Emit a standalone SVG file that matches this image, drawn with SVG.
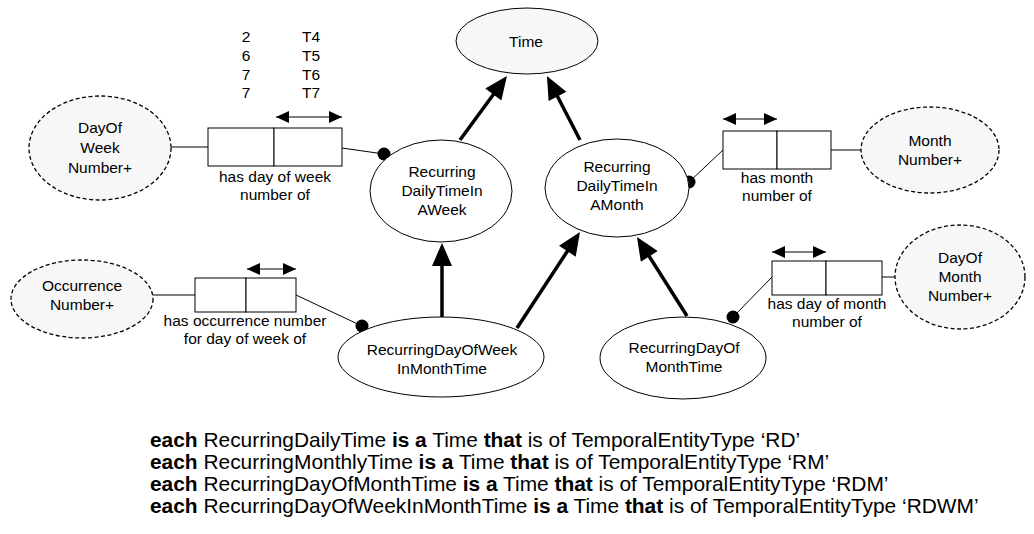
<svg xmlns="http://www.w3.org/2000/svg" width="1034" height="534" viewBox="0 0 1034 534">
  <style>
    text { font-family: "Liberation Sans", Arial, sans-serif; font-size: 15.5px; fill: #000; }
    .c { text-anchor: middle; }
    .foot { font-size: 20.9px; }
    .b { font-weight: bold; }
    .ent { fill: #ffffff; stroke: #000; stroke-width: 1; }
    .top { fill: #f7f7f7; stroke: #000; stroke-width: 1; }
    .val { fill: #f7f7f7; stroke: #000; stroke-width: 1.3; stroke-dasharray: 4 2.5; }
    .role { fill: #ffffff; stroke: #000; stroke-width: 1; }
    .link { stroke: #000; stroke-width: 1; fill: none; }
    .sub { stroke: #000; stroke-width: 3.5; fill: none; marker-end: url(#subHead); }
    .uniq { stroke: #000; stroke-width: 1; fill: none; marker-start: url(#uHead); marker-end: url(#uHead); }
    .dot { fill: #000; }
  </style>
  <defs>
    <marker id="subHead" markerUnits="userSpaceOnUse" markerWidth="24" markerHeight="20" viewBox="0 0 23 20" refX="5" refY="10" orient="auto">
      <path d="M0,0 L23,10 L0,20 z" fill="#000"/>
    </marker>
    <marker id="uHead" markerUnits="userSpaceOnUse" markerWidth="13" markerHeight="12" viewBox="0 0 13 12" refX="13" refY="6" orient="auto-start-reverse">
      <path d="M0,0 L13,6 L0,12 z" fill="#000"/>
    </marker>
  </defs>

  <!-- sample population of the day-of-week fact -->
  <g id="population">
    <text class="c" x="246" y="42">2</text>
    <text class="c" x="246" y="61">6</text>
    <text class="c" x="246" y="80">7</text>
    <text class="c" x="246" y="98">7</text>
    <text class="c" x="311" y="42">T4</text>
    <text class="c" x="311" y="61">T5</text>
    <text class="c" x="311" y="80">T6</text>
    <text class="c" x="311" y="98">T7</text>
  </g>

  <!-- connectors: role links, subtype arrows, uniqueness bars -->
  <g id="connectors">
    <line class="link" x1="171" y1="147" x2="208" y2="147"/>
    <line class="link" x1="342" y1="148" x2="384" y2="154"/>
    <line class="link" x1="689" y1="182" x2="723" y2="150"/>
    <line class="link" x1="831" y1="150" x2="861" y2="150"/>
    <line class="link" x1="153" y1="295" x2="195" y2="295"/>
    <line class="link" x1="296" y1="295" x2="362" y2="326"/>
    <line class="link" x1="733" y1="317" x2="772" y2="277"/>
    <line class="link" x1="882" y1="277" x2="895" y2="277"/>

    <line class="sub" x1="460" y1="140" x2="496.3" y2="90.5"/>
    <line class="sub" x1="580" y1="140" x2="555.2" y2="92"/>
    <line class="sub" x1="442" y1="317" x2="442" y2="261"/>
    <line class="sub" x1="517" y1="328" x2="570.1" y2="247"/>
    <line class="sub" x1="687" y1="316" x2="646.6" y2="252.2"/>

    <line class="uniq" x1="276" y1="117" x2="342" y2="117"/>
    <line class="uniq" x1="723" y1="119" x2="777" y2="119"/>
    <line class="uniq" x1="247" y1="269" x2="296" y2="269"/>
    <line class="uniq" x1="772" y1="252" x2="826" y2="252"/>

    <circle class="dot" cx="384" cy="154" r="6.5"/>
    <circle class="dot" cx="689" cy="182" r="6.5"/>
    <circle class="dot" cx="362" cy="326" r="6.5"/>
    <circle class="dot" cx="733" cy="317" r="6.5"/>
  </g>

  <g id="time">
    <ellipse class="top" cx="527" cy="41" rx="71" ry="33"/>
    <text class="c" x="526" y="47">Time</text>
  </g>

  <g id="recurringDailyTimeInAWeek">
    <ellipse class="ent" cx="441" cy="191" rx="71" ry="51"/>
    <text class="c" x="442" y="177">Recurring</text>
    <text class="c" x="442" y="196">DailyTimeIn</text>
    <text class="c" x="442" y="215">AWeek</text>
  </g>

  <g id="recurringDailyTimeInAMonth">
    <ellipse class="ent" cx="617" cy="188" rx="72" ry="49"/>
    <text class="c" x="617" y="172">Recurring</text>
    <text class="c" x="617" y="191">DailyTimeIn</text>
    <text class="c" x="617" y="210">AMonth</text>
  </g>

  <g id="recurringDayOfWeekInMonthTime">
    <ellipse class="ent" cx="441" cy="357" rx="103" ry="40"/>
    <text class="c" x="442" y="355">RecurringDayOfWeek</text>
    <text class="c" x="442" y="374">InMonthTime</text>
  </g>

  <g id="recurringDayOfMonthTime">
    <ellipse class="ent" cx="683" cy="358" rx="83" ry="41"/>
    <text class="c" x="684" y="353">RecurringDayOf</text>
    <text class="c" x="684" y="372">MonthTime</text>
  </g>

  <g id="dayOfWeekNumber">
    <ellipse class="val" cx="100" cy="148" rx="71" ry="52"/>
    <text class="c" x="100" y="133">DayOf</text>
    <text class="c" x="100" y="153">Week</text>
    <text class="c" x="100" y="173">Number+</text>
  </g>

  <g id="monthNumber">
    <ellipse class="val" cx="930" cy="150" rx="69" ry="43"/>
    <text class="c" x="930" y="146">Month</text>
    <text class="c" x="930" y="165">Number+</text>
  </g>

  <g id="occurrenceNumber">
    <ellipse class="val" cx="82" cy="299" rx="71" ry="39"/>
    <text class="c" x="82" y="291">Occurrence</text>
    <text class="c" x="82" y="310">Number+</text>
  </g>

  <g id="dayOfMonthNumber">
    <ellipse class="val" cx="960" cy="277" rx="65" ry="52"/>
    <text class="c" x="960" y="263">DayOf</text>
    <text class="c" x="960" y="282">Month</text>
    <text class="c" x="960" y="301">Number+</text>
  </g>

  <g id="factDayOfWeek">
    <rect class="role" x="208" y="128" width="66" height="38"/>
    <rect class="role" x="274" y="128" width="68" height="38"/>
    <text class="c" x="275" y="182">has day of week</text>
    <text class="c" x="275" y="200">number of</text>
  </g>

  <g id="factMonth">
    <rect class="role" x="723" y="131" width="54" height="38"/>
    <rect class="role" x="777" y="131" width="54" height="38"/>
    <text class="c" x="777" y="183">has month</text>
    <text class="c" x="777" y="201">number of</text>
  </g>

  <g id="factOccurrence">
    <rect class="role" x="195" y="278" width="51" height="34"/>
    <rect class="role" x="246" y="278" width="50" height="34"/>
    <text class="c" x="245" y="326">has occurrence number</text>
    <text class="c" x="245" y="344">for day of week of</text>
  </g>

  <g id="factDayOfMonth">
    <rect class="role" x="772" y="261" width="54" height="34"/>
    <rect class="role" x="826" y="261" width="56" height="34"/>
    <text class="c" x="827" y="309">has day of month</text>
    <text class="c" x="827" y="327">number of</text>
  </g>

  <!-- verbalised subtype definitions -->
  <g id="definitions">
    <text class="foot" x="150" y="447"><tspan class="b">each</tspan> RecurringDailyTime <tspan class="b">is a</tspan> Time <tspan class="b">that</tspan> is of TemporalEntityType ‘RD’</text>
    <text class="foot" x="150" y="469"><tspan class="b">each</tspan> RecurringMonthlyTime <tspan class="b">is a</tspan> Time <tspan class="b">that</tspan> is of TemporalEntityType ‘RM’</text>
    <text class="foot" x="150" y="491"><tspan class="b">each</tspan> RecurringDayOfMonthTime <tspan class="b">is a</tspan> Time <tspan class="b">that</tspan> is of TemporalEntityType ‘RDM’</text>
    <text class="foot" x="150" y="513"><tspan class="b">each</tspan> RecurringDayOfWeekInMonthTime <tspan class="b">is a</tspan> Time <tspan class="b">that</tspan> is of TemporalEntityType ‘RDWM’</text>
  </g>
</svg>
